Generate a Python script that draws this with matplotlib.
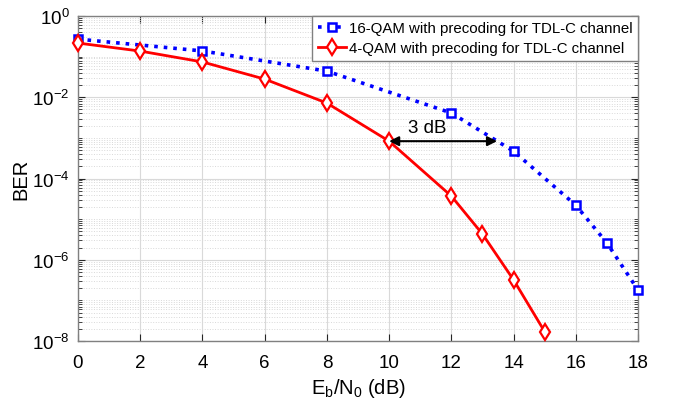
import numpy as np
import matplotlib.pyplot as plt
from matplotlib.ticker import FixedLocator, LogLocator, NullFormatter

# Eb/N0 (dB) and BER values
snr_16qam = [0, 4, 8, 12, 14, 16, 17, 18]
ber_16qam = [0.27, 0.138, 0.044, 4.1e-3, 4.7e-4, 2.2e-5, 2.6e-6, 1.8e-7]

snr_4qam = [0, 2, 4, 6, 8, 10, 12, 13, 14, 15]
ber_4qam = [0.216, 0.137, 0.074, 0.028, 7.2e-3, 8.3e-4, 3.7e-5, 4.3e-6, 3.2e-7, 1.7e-8]

label_16qam = '16-QAM with precoding for TDL-C channel'
label_4qam = '4-QAM with precoding for TDL-C channel'

# 3 dB gap annotation
gap_start = 10
gap_end = 13.47
gap_ber = 8.3e-4

plt.rcParams['font.family'] = ['Liberation Sans', 'DejaVu Sans']

fig = plt.figure(figsize=(6.74, 4.06), dpi=100)
ax = fig.add_axes([0.1157, 0.1576, 0.8309, 0.8005])

ax.semilogy(snr_16qam, ber_16qam, color='#0000ff', linestyle=':', linewidth=2.6,
            marker='s', markersize=5.5, markerfacecolor='white',
            markeredgecolor='#0000ff', markeredgewidth=1.8, label=label_16qam,
            clip_on=False, zorder=3)
ax.semilogy(snr_4qam, ber_4qam, color='#ff0000', linestyle='-', linewidth=2,
            marker='d', markersize=8.5, markerfacecolor='white',
            markeredgecolor='#ff0000', markeredgewidth=1.6, label=label_4qam,
            clip_on=False, zorder=3)

# double arrow for the 3 dB gap
ax.annotate('', xy=(gap_end, gap_ber), xytext=(gap_start, gap_ber),
            arrowprops=dict(arrowstyle='<|-|>', color='black', lw=1.5,
                            mutation_scale=14, shrinkA=0, shrinkB=0))
ax.text((gap_start + gap_end) / 2 - 0.5, gap_ber * 1.35, '3 dB', fontsize=13.5,
        ha='center', va='bottom')

ax.set_xlim(0, 18)
ax.set_ylim(1e-8, 1e0)
ax.set_xticks(np.arange(0, 19, 2))
ax.yaxis.set_major_locator(FixedLocator([1e-8, 1e-6, 1e-4, 1e-2, 1e0]))
ax.yaxis.set_minor_locator(LogLocator(base=10, subs=np.arange(1, 10), numticks=20))
ax.yaxis.set_minor_formatter(NullFormatter())

ax.tick_params(axis='both', which='both', direction='in', labelsize=13.5,
               colors='#262626', top=True, right=True)
ax.tick_params(axis='both', which='major', length=5)
ax.tick_params(axis='x', which='major', pad=9)
ax.tick_params(axis='y', which='major', pad=6)
ax.tick_params(axis='y', which='minor', length=3)
ax.tick_params(axis='x', which='minor', bottom=False, top=False)
for lab in ax.get_xticklabels() + ax.get_yticklabels():
    lab.set_color('black')

ax.grid(True, which='major', color='#d9d9d9', linewidth=0.8)
ax.grid(True, which='minor', axis='y', color='#d9d9d9', linestyle=':', linewidth=0.7)
ax.set_axisbelow(True)

for spine in ax.spines.values():
    spine.set_color('#808080')
    spine.set_linewidth(1)

ax.set_xlabel('E$_\\mathregular{b}$/N$_\\mathregular{0}$ (dB)', fontsize=14.5, labelpad=4)
ax.set_ylabel('BER', fontsize=14.5, labelpad=1)

leg = ax.legend(loc='upper right', fontsize=10.8, frameon=True, fancybox=False,
                borderaxespad=0, borderpad=0.35, handlelength=1.9,
                handletextpad=0.2, labelspacing=0.4)
leg.get_frame().set_edgecolor('#808080')
leg.get_frame().set_linewidth(1)
leg.get_frame().set_alpha(1)
leg.set_zorder(5)

fig.savefig('out.png', dpi=100)
